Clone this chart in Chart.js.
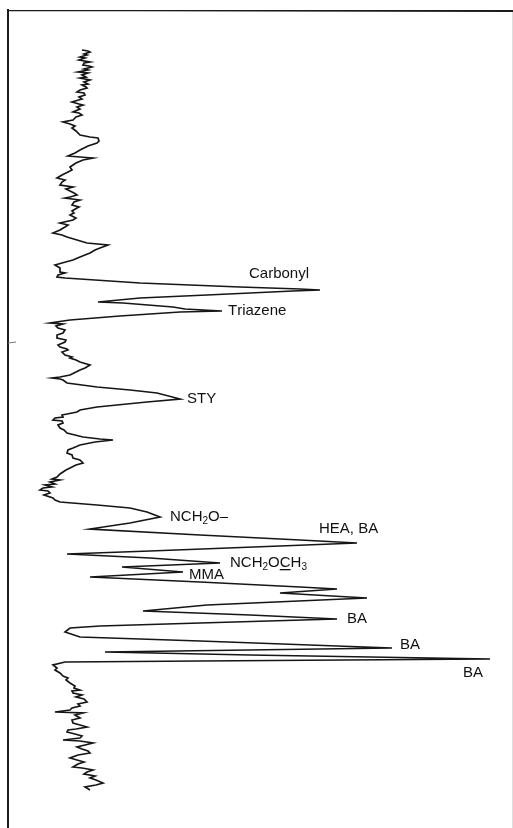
<!DOCTYPE html>
<html>
<head>
<meta charset="utf-8">
<title>Pyrolysis trace</title>
<script src="https://cdn.jsdelivr.net/npm/chart.js@4.4.1/dist/chart.umd.min.js"></script>
<style>
  html, body { margin: 0; padding: 0; background: #fff; }
  #wrap { width: 513px; height: 828px; }
</style>
</head>
<body>
<div id="wrap"><canvas id="traceChart" width="513" height="828"></canvas></div>
<script>
// Retention position (runs downward) and detector response (runs to the right)
const retention = [
    50, 51, 52, 54, 55, 57, 58, 60, 62, 63, 65, 66, 67, 69, 70, 72, 73, 75, 77, 78,
    80, 82, 84, 85, 87, 88, 90, 92, 93, 95, 97, 99, 102, 104, 105, 107, 109, 112, 113, 115,
    117, 120, 122, 124, 126, 128, 131, 135, 137, 138, 141, 143, 146, 148, 150, 153, 156, 157, 158, 160,
    163, 165, 167, 170, 172, 175, 178, 180, 182, 185, 187, 189, 190, 193, 195, 197, 198, 200, 202, 205,
    207, 208, 211, 213, 215, 218, 220, 223, 225, 227, 230, 233, 235, 237, 240, 243, 245, 248, 250, 253,
    257, 260, 263, 265, 268, 272, 273, 275, 277, 278,
    283, 287, 289, 290, 291, 295, 298, 302, 303, 307, 309, 311, 312, 316, 320,
    323, 324, 326, 328, 330, 333, 335, 338, 340, 342, 345, 347, 349, 350, 352, 355, 357, 358, 360, 362,
    365, 368, 370, 373, 375, 377, 378, 379, 380, 383,
    387, 390, 393, 399, 402,
    407, 410, 412, 415, 417, 418, 420, 421, 423, 425, 428, 430, 433, 435, 437, 439, 440, 442, 445, 448,
    450, 453, 455, 458, 460, 463, 465, 468, 470, 472, 474, 477, 479, 480, 482, 484, 485, 487, 488, 490,
    491, 493, 495, 498, 500, 502,
    505, 508, 512, 517, 523, 529, 535, 540, 543, 546, 551, 554, 558, 563, 567, 572, 577, 582, 587, 589,
    593, 598, 605, 611, 615, 619, 623, 626, 628, 632, 637, 641, 648, 652, 655, 659, 661,
    662, 665, 668, 670, 673, 676, 678, 680, 683, 686, 688, 690, 691, 693, 695, 697, 699, 702, 704, 706,
    708, 710, 712, 713, 715, 718, 720, 723, 725, 727, 729, 730, 732, 734, 736, 738, 740, 741, 743, 745,
    747, 749, 751, 753, 755, 758, 760, 762, 764, 767, 768, 770, 772, 774, 776, 778, 780, 783, 785, 787,
    790
];
const response = [
    82, 88, 90, 84, 87, 80, 85, 79, 90, 84, 83, 89, 92, 84, 88, 78, 88, 82, 86, 80,
    90, 84, 88, 82, 86, 87, 80, 77, 84, 85, 79, 82, 72, 79, 83, 77, 80, 73, 79, 82,
    76, 73, 63, 70, 75, 72, 76, 80, 90, 98, 99, 97, 88, 84, 80, 75, 68, 80, 93, 83,
    76, 73, 70, 72, 68, 62, 57, 65, 62, 60, 73, 66, 68, 74, 77, 70, 65, 80, 74, 72,
    79, 77, 72, 74, 70, 76, 73, 60, 68, 65, 60, 53, 62, 67, 77, 87, 108, 100, 95, 90,
    80, 73, 62, 55, 60, 60, 65, 58, 57, 65,
    140, 240, 300, 320, 293, 207, 140, 98, 123, 173, 185, 222, 180, 120, 70,
    50, 63, 56, 58, 65, 63, 57, 57, 66, 65, 58, 60, 67, 68, 62, 65, 72, 70, 76, 80,
    90, 85, 80, 74, 70, 60, 52, 60, 63, 67,
    97, 130, 157, 180, 147,
    97, 80, 77, 62, 63, 55, 53, 62, 63, 58, 60, 64, 67, 75, 83, 100, 113, 95, 80, 73,
    68, 67, 72, 73, 80, 83, 76, 70, 66, 63, 60, 57, 52, 60, 50, 55, 45, 52, 43, 40,
    48, 50, 44, 53, 55, 60,
    97, 130, 147, 160, 130, 90, 200, 300, 357, 280, 150, 67, 150, 220, 122, 183, 90, 200, 300, 337,
    280, 367, 207, 143, 250, 337, 200, 100, 70, 65, 80, 200, 392, 105, 250, 490, 200,
    65, 53, 57, 55, 60, 63, 68, 66, 70, 75, 74, 80, 72, 73, 82, 76, 84, 87, 78, 80,
    72, 70, 55, 83, 75, 80, 72, 73, 80, 87, 76, 68, 67, 75, 82, 80, 63, 80, 93, 85,
    77, 82, 88, 90, 78, 70, 77, 84, 78, 73, 82, 93, 87, 84, 95, 90, 96, 103, 96, 85,
    90
];

// Peak names, subscripts marked with _, underlined letters with ^
const peakNames = ['Carbonyl', 'Triazene', 'STY', 'NCH_2O–', 'HEA, BA', 'NCH_2O^CH_3', 'MMA', 'BA', 'BA', 'BA'];
const peakRetention = [290, 311, 399, 517, 543, 563, 572, 619, 648, 659];

// where each name sits relative to its peak (pixels)
const labelOffsets = [
    [-71, -16], [6, 0], [7, 0], [10, 0], [-38, -14], [10, 0], [6, 3], [10, 0], [8, -3], [-27, 14]
];

const points = retention.map((r, i) => ({ x: response[i], y: r }));

function drawRichText(ctx, text, x, y) {
    const base = '15px "Liberation Sans", Arial, sans-serif';
    const small = '10px "Liberation Sans", Arial, sans-serif';
    let cx = x;
    let underline = false;
    for (let i = 0; i < text.length; i++) {
        const ch = text[i];
        if (ch === '^') { underline = true; continue; }
        if (ch === '_') {
            const s = text[++i];
            ctx.font = small;
            ctx.fillText(s, cx, y + 4);
            cx += ctx.measureText(s).width;
            continue;
        }
        ctx.font = base;
        ctx.fillText(ch, cx, y);
        const w = ctx.measureText(ch).width;
        if (underline) {
            ctx.fillRect(cx, y + 6, w, 1.3);
            underline = false;
        }
        cx += w;
    }
}

const framePlugin = {
    id: 'frame',
    beforeDraw(chart) {
        const ctx = chart.ctx;
        ctx.save();
        ctx.fillStyle = '#fff';
        ctx.fillRect(0, 0, chart.width, chart.height);
        ctx.strokeStyle = '#1b1b1b';
        ctx.lineWidth = 2;
        ctx.beginPath();
        ctx.moveTo(8, 10);
        ctx.lineTo(513, 11);
        ctx.moveTo(8, 9);
        ctx.lineTo(8, 828);
        ctx.stroke();
        ctx.lineWidth = 1;
        ctx.strokeStyle = '#777';
        ctx.beginPath();
        ctx.moveTo(8, 343);
        ctx.lineTo(16, 342);
        ctx.stroke();
        ctx.strokeStyle = '#dedede';
        ctx.beginPath();
        ctx.moveTo(512.5, 12);
        ctx.lineTo(512.5, 828);
        ctx.stroke();
        ctx.restore();
    }
};

const peakLabelPlugin = {
    id: 'peakLabels',
    afterDatasetsDraw(chart) {
        const ctx = chart.ctx;
        const xs = chart.scales.x;
        const ys = chart.scales.y;
        ctx.save();
        ctx.fillStyle = '#111';
        ctx.textBaseline = 'middle';
        peakNames.forEach((name, i) => {
            const idx = retention.indexOf(peakRetention[i]);
            const px = xs.getPixelForValue(response[idx]);
            const py = ys.getPixelForValue(peakRetention[i]);
            drawRichText(ctx, name, px + labelOffsets[i][0], py + labelOffsets[i][1]);
        });
        ctx.restore();
    }
};

new Chart(document.getElementById('traceChart').getContext('2d'), {
    type: 'scatter',
    data: {
        datasets: [{
            data: points,
            showLine: true,
            borderColor: '#161616',
            borderWidth: 1.7,
            pointRadius: 0,
            tension: 0
        }]
    },
    options: {
        responsive: false,
        animation: false,
        layout: { padding: 0 },
        scales: {
            x: { display: false, min: 0, max: 513 },
            y: { display: false, min: 0, max: 828, reverse: true }
        },
        plugins: {
            legend: { display: false },
            tooltip: { enabled: false }
        }
    },
    plugins: [framePlugin, peakLabelPlugin]
});
</script>
</body>
</html>
